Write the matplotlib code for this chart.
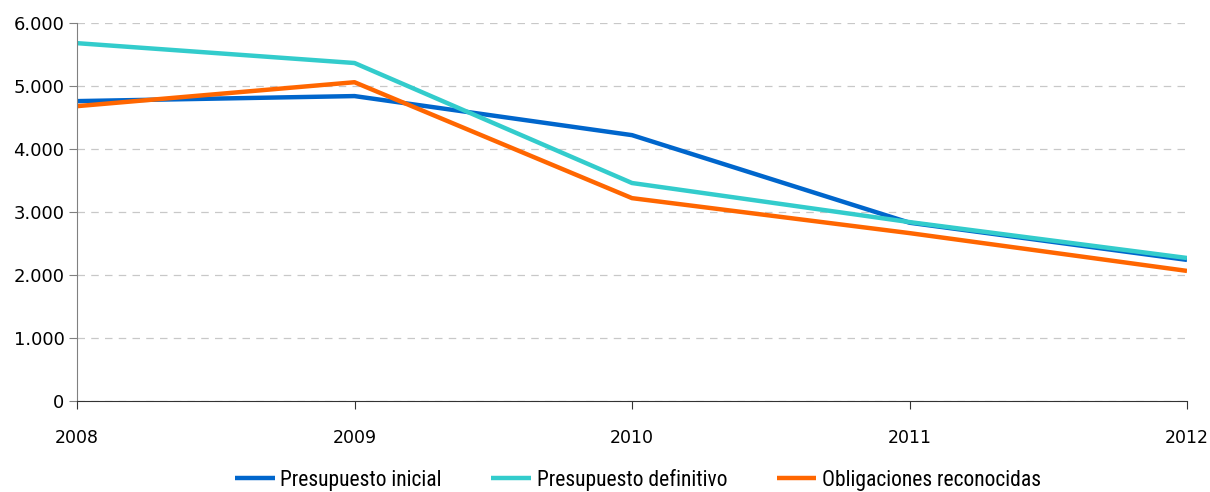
import matplotlib.pyplot as plt
from matplotlib.ticker import FuncFormatter

years = [2008, 2009, 2010, 2011, 2012]
presupuesto_inicial = [4760, 4840, 4220, 2830, 2240]
presupuesto_definitivo = [5680, 5365, 3460, 2840, 2270]
obligaciones_reconocidas = [4680, 5060, 3220, 2665, 2065]

series = [
    ("Presupuesto inicial", presupuesto_inicial, "#0066CC"),
    ("Presupuesto definitivo", presupuesto_definitivo, "#33CCCC"),
    ("Obligaciones reconocidas", obligaciones_reconocidas, "#FF6600"),
]

# narrow face for the legend, falling back to the regular sans
legend_family = ["Liberation Sans Narrow", "Roboto Condensed", "Archivo Narrow", "Liberation Sans"]

fig = plt.figure(figsize=(12.1, 4.92), dpi=100)
ax = fig.add_axes([77 / 1210, 91 / 492, 1110 / 1210, 378 / 492])

for label, vals, color in series:
    ax.plot(years, vals, color=color, lw=3.2, label=label, solid_capstyle="butt")

ax.set_xlim(2008, 2012)
ax.set_ylim(0, 6000)
ax.set_xticks(years)
ax.set_yticks(range(0, 6001, 1000))
ax.yaxis.set_major_formatter(FuncFormatter(lambda v, p: f"{int(v):,}".replace(",", ".")))
ax.yaxis.grid(True, color="#C8C8C8", linestyle=(0, (6, 5)), lw=0.9)
ax.set_axisbelow(True)

for s in ["top", "right"]:
    ax.spines[s].set_visible(False)
ax.spines["left"].set_color("#808080")
ax.spines["bottom"].set_color("#333333")
ax.tick_params(axis="y", length=6, color="#808080", labelsize=13, pad=3)
ax.tick_params(axis="x", length=6, color="#333333", labelsize=12.5, pad=14)

handles, labels = ax.get_legend_handles_labels()
fig.legend(handles, labels, loc="center", bbox_to_anchor=(638 / 1210, 12 / 492), ncol=3,
           frameon=False, handlelength=1.85, handletextpad=0.25, columnspacing=2.3,
           borderpad=0, prop={"family": legend_family, "size": 15.5})

fig.savefig("out.png", dpi=100)
